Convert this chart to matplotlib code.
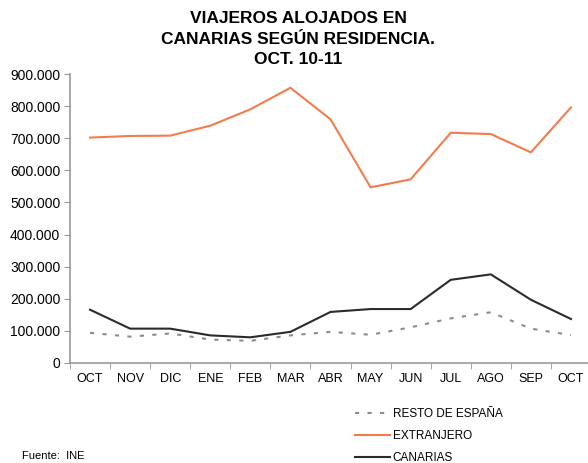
import numpy as np
import matplotlib.pyplot as plt
from matplotlib.ticker import FuncFormatter, FixedLocator

plt.rcParams['font.family'] = ['Liberation Sans', 'DejaVu Sans']

# Datos (viajeros alojados, oct 2010 - oct 2011)
meses = ['OCT', 'NOV', 'DIC', 'ENE', 'FEB', 'MAR', 'ABR', 'MAY', 'JUN',
         'JUL', 'AGO', 'SEP', 'OCT']
resto_espana = [94000, 82000, 92000, 73000, 69000, 86000, 97000, 88000,
                111000, 139000, 158000, 107000, 87000]
extranjero = [702000, 707000, 708000, 739000, 790000, 857000, 759000,
              547000, 572000, 717000, 713000, 656000, 796000]
canarias = [166000, 107000, 107000, 86000, 80000, 97000, 159000, 168000,
            168000, 259000, 276000, 197000, 137000]

W, H = 588, 463
fig = plt.figure(figsize=(W / 100, H / 100), dpi=100)
ax = fig.add_axes([70 / W, 1 - 363 / H, 521 / W, 289 / H])

x = np.arange(len(meses))
l1, = ax.plot(x, resto_espana, color='#8c8c8c', lw=1.5, dashes=(2, 4))
l2, = ax.plot(x, extranjero, color='#f47c4c', lw=1.5)
l3, = ax.plot(x, canarias, color='#2b2b2b', lw=1.5)

ax.set_xlim(-0.5, len(meses) - 0.5)
ax.set_ylim(0, 900000)
ax.set_yticks(np.arange(0, 900001, 100000))
ax.yaxis.set_major_formatter(FuncFormatter(
    lambda v, p: f'{int(v):,}'.replace(',', '.')))

# Ticks entre categorías, etiquetas centradas
ax.set_xticks(x)
ax.set_xticklabels(meses)
ax.xaxis.set_minor_locator(FixedLocator(np.arange(-0.5, len(meses), 1)))
ax.tick_params(axis='x', which='major', length=0, pad=7, labelsize=9)
ax.tick_params(axis='x', which='minor', length=4, color='#999999',
               direction='out')
ax.tick_params(axis='y', length=4, color='#999999', labelsize=10, pad=3)

for s in ['top', 'right']:
    ax.spines[s].set_visible(False)
for s in ['left', 'bottom']:
    ax.spines[s].set_color('#999999')
    ax.spines[s].set_linewidth(1.2)

fig.text(298 / W, 1 - 39 / H,
         'VIAJEROS ALOJADOS EN\nCANARIAS SEGÚN RESIDENCIA.\nOCT. 10-11',
         ha='center', va='center', fontsize=12.5, fontweight='bold',
         linespacing=1.42)

fig.legend([l1, l2, l3], ['RESTO DE ESPAÑA', 'EXTRANJERO', 'CANARIAS'],
           loc='upper left', bbox_to_anchor=(355 / W, 1 - 408 / H),
           frameon=False, fontsize=8.5, handlelength=3.0, handletextpad=0.2,
           labelspacing=0.85, borderpad=0, borderaxespad=0)

fig.text(22 / W, 1 - 456 / H, 'Fuente:  INE', ha='left', va='center',
         fontsize=8)

fig.savefig('out.png', dpi=100)
